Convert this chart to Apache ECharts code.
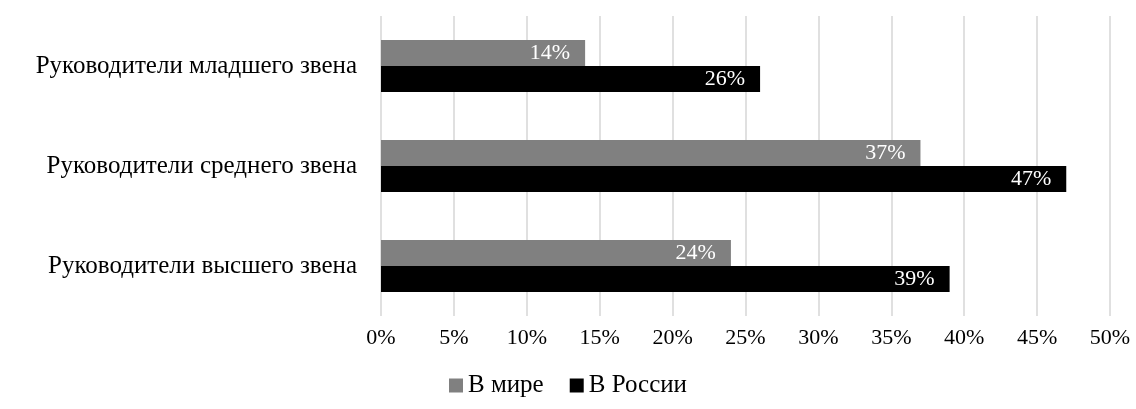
<!DOCTYPE html>
<html>
<head>
<meta charset="utf-8">
<script src="https://cdn.jsdelivr.net/npm/echarts@6/dist/echarts.min.js"></script>
<style>
  html, body { margin: 0; padding: 0; background: #fff; }
  #chart { width: 1136px; height: 409px; }
</style>
</head>
<body>
<div id="chart"></div>
<script>
// категории сверху вниз
const categories = ['Руководители младшего звена', 'Руководители среднего звена', 'Руководители высшего звена'];
const worldValues = [14, 37, 24];
const russiaValues = [26, 47, 39];
const seriesNames = ['В мире', 'В России'];

const font = '"Liberation Serif", "Times New Roman", serif';

const chart = echarts.init(document.getElementById('chart'));

// подпись внутри столбца, белая
const barLabel = {
  show: true,
  position: 'insideRight',
  distance: 15,
  color: '#fff',
  fontFamily: font,
  fontSize: 22,
  formatter: p => p.value + '%',
};

const option = {
  animation: false,
  textStyle: { fontFamily: font },
  grid: { left: 381, right: 26, top: 16, bottom: 93 },
  legend: {
    bottom: 6,
    left: 'center',
    itemWidth: 14,
    itemHeight: 14,
    itemGap: 26,
    icon: 'rect',
    textStyle: { fontFamily: font, fontSize: 25, color: '#000', padding: [3, 0, 0, 0] },
    data: seriesNames,
  },
  xAxis: {
    type: 'value',
    min: 0,
    max: 50,
    interval: 5,
    axisLine: { show: false },
    axisTick: { show: false },
    axisLabel: { color: '#000', fontSize: 22, fontFamily: font, margin: 11, formatter: '{value}%' },
    splitLine: { lineStyle: { color: '#d6d6d6', width: 1.5 } },
  },
  yAxis: {
    type: 'category',
    inverse: true,
    data: categories,
    axisLine: { show: false },
    axisTick: { show: false },
    axisLabel: { color: '#000', fontSize: 25, fontFamily: font, margin: 24 },
  },
  series: [
    {
      name: seriesNames[0],
      type: 'bar',
      data: worldValues,
      itemStyle: { color: '#808080' },
      barGap: '0%',
      barCategoryGap: '48%',
      label: barLabel,
    },
    {
      name: seriesNames[1],
      type: 'bar',
      data: russiaValues,
      itemStyle: { color: '#000' },
      barGap: '0%',
      barCategoryGap: '48%',
      label: barLabel,
    },
  ],
};

chart.setOption(option);
</script>
</body>
</html>
